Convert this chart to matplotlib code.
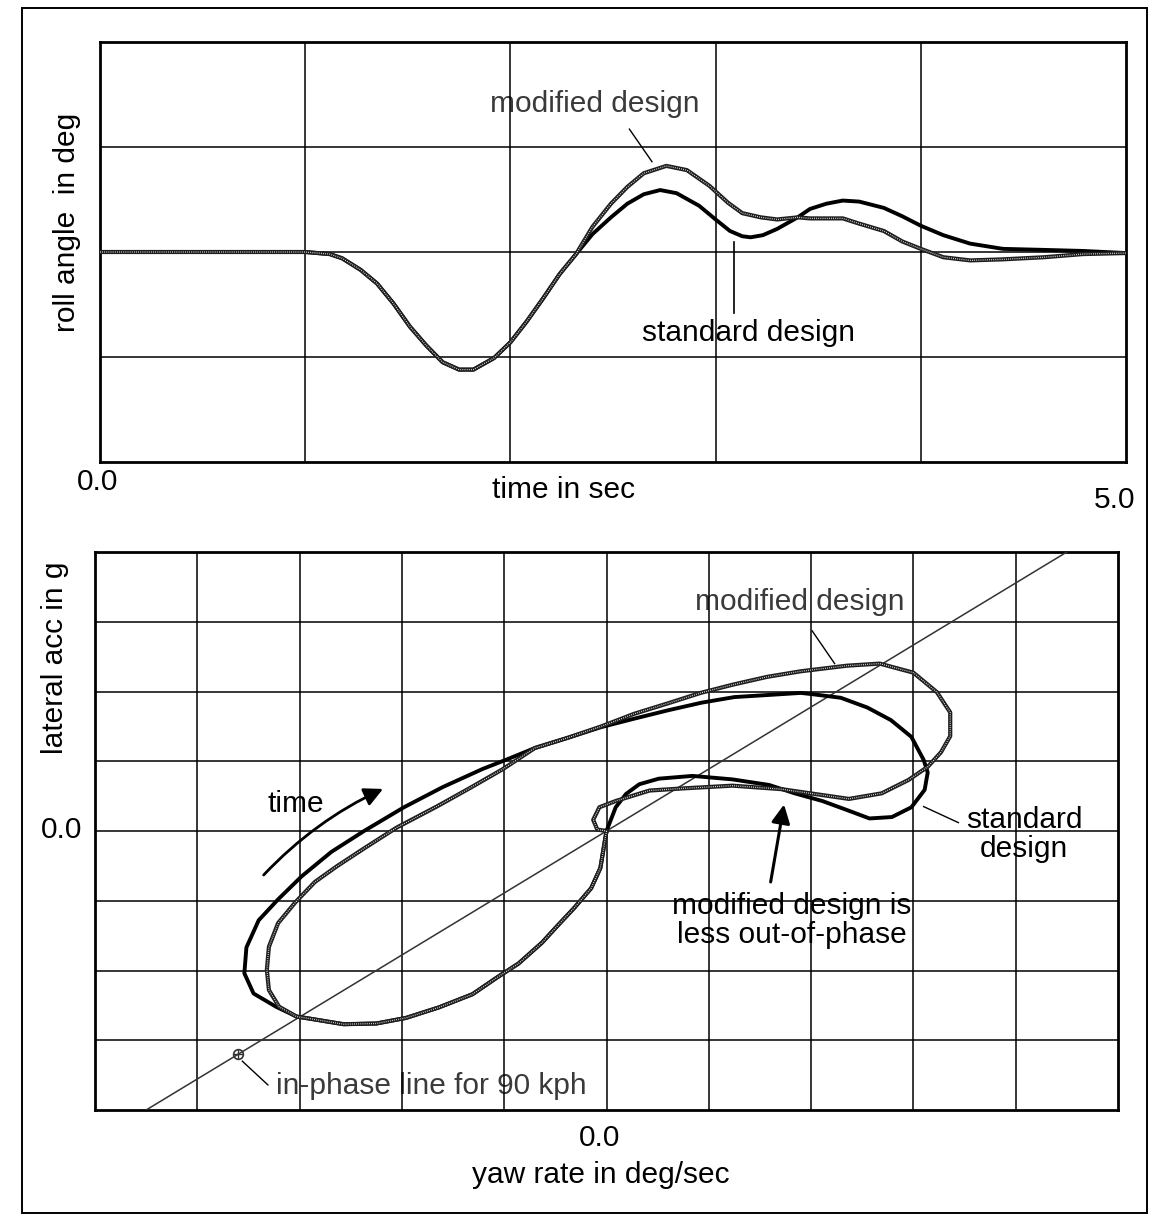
import matplotlib
matplotlib.use("Agg")
import matplotlib.pyplot as plt
from matplotlib.patches import FancyArrowPatch, Rectangle

plt.rcParams["font.family"] = ["Liberation Sans", "DejaVu Sans"]

# ---- top panel: roll angle vs time (grid units)
t_std = [0.0, 1.0, 1.12, 1.18, 1.27, 1.35, 1.43, 1.51, 1.59, 1.67, 1.75, 1.82, 1.92,
         2.00, 2.08, 2.16, 2.24, 2.32, 2.40, 2.49, 2.57, 2.65, 2.73, 2.81, 2.92, 3.00,
         3.07, 3.13, 3.17, 3.23, 3.30, 3.40, 3.46, 3.54, 3.62, 3.70, 3.82, 3.91, 4.00,
         4.11, 4.24, 4.40, 4.60, 4.79, 5.0]
roll_std = [0.0, 0.0, -0.02, -0.06, -0.17, -0.30, -0.49, -0.71, -0.89, -1.05, -1.12, -1.12,
            -1.01, -0.86, -0.66, -0.44, -0.21, -0.02, 0.17, 0.33, 0.46, 0.55, 0.59, 0.56,
            0.44, 0.31, 0.20, 0.15, 0.14, 0.16, 0.22, 0.33, 0.41, 0.46, 0.49, 0.48, 0.42,
            0.34, 0.25, 0.16, 0.08, 0.03, 0.02, 0.01, -0.01]
t_mod = [0.0, 1.0, 1.12, 1.18, 1.27, 1.35, 1.43, 1.51, 1.59, 1.67, 1.75, 1.82, 1.92,
         2.00, 2.08, 2.16, 2.24, 2.32, 2.40, 2.49, 2.57, 2.65, 2.76, 2.86, 2.97, 3.06,
         3.13, 3.22, 3.30, 3.40, 3.46, 3.62, 3.70, 3.82, 3.91, 4.00, 4.11, 4.24, 4.40,
         4.60, 4.79, 5.0]
roll_mod = [0.0, 0.0, -0.02, -0.06, -0.17, -0.30, -0.49, -0.71, -0.89, -1.05, -1.12, -1.12,
            -1.01, -0.86, -0.66, -0.44, -0.21, -0.02, 0.24, 0.46, 0.62, 0.75, 0.82, 0.78,
            0.63, 0.47, 0.37, 0.33, 0.31, 0.33, 0.32, 0.32, 0.27, 0.20, 0.10, 0.03, -0.05,
            -0.08, -0.07, -0.05, -0.02, -0.01]

# ---- bottom panel: lateral acc vs yaw rate (grid units)
yaw_std = [0.0, -0.06, -0.15, -0.32, -0.48, -0.63, -0.86, -1.06, -1.31, -1.64, -1.96,
           -2.25, -2.57, -2.86, -3.03, -3.23, -3.45, -3.54, -3.52, -3.40, -3.21, -2.98,
           -2.69, -2.37, -1.98, -1.60, -1.21, -0.95, -0.70, -0.37, -0.05, 0.27, 0.60,
           0.93, 1.25, 1.58, 1.90, 2.02, 2.29, 2.55, 2.78, 2.98, 3.10, 3.14, 3.11, 2.98,
           2.79, 2.57, 2.37, 2.11, 1.84, 1.59, 1.23, 0.84, 0.51, 0.32, 0.19, 0.09, 0.0]
acc_std = [0.0, -0.53, -0.82, -1.11, -1.36, -1.60, -1.90, -2.09, -2.34, -2.53, -2.68,
           -2.76, -2.77, -2.70, -2.66, -2.52, -2.33, -2.04, -1.67, -1.28, -0.98, -0.65,
           -0.30, 0.00, 0.34, 0.63, 0.89, 1.04, 1.19, 1.34, 1.49, 1.61, 1.73, 1.84, 1.92,
           1.95, 1.98, 1.96, 1.91, 1.77, 1.59, 1.35, 1.02, 0.84, 0.59, 0.34, 0.20, 0.18,
           0.29, 0.43, 0.54, 0.66, 0.74, 0.79, 0.75, 0.67, 0.53, 0.34, 0.0]
yaw_mod = [0.0, -0.06, -0.15, -0.32, -0.48, -0.63, -0.86, -1.06, -1.31, -1.64, -1.96,
           -2.25, -2.57, -2.86, -3.03, -3.20, -3.30, -3.32, -3.30, -3.21, -3.04, -2.85,
           -2.63, -2.37, -2.05, -1.66, -1.33, -1.01, -0.70, -0.37, -0.05, 0.27, 0.60,
           0.92, 1.24, 1.57, 1.90, 2.35, 2.67, 3.00, 3.23, 3.36, 3.36, 3.27, 3.14, 2.95,
           2.69, 2.37, 2.04, 1.71, 1.23, 0.74, 0.42, 0.09, -0.07, -0.13, -0.09, 0.0]
acc_mod = [0.0, -0.53, -0.82, -1.11, -1.36, -1.60, -1.90, -2.09, -2.34, -2.53, -2.68,
           -2.76, -2.77, -2.70, -2.66, -2.52, -2.28, -1.99, -1.66, -1.32, -1.02, -0.73,
           -0.50, -0.25, 0.05, 0.35, 0.62, 0.89, 1.19, 1.34, 1.50, 1.68, 1.83, 1.98, 2.10,
           2.21, 2.29, 2.37, 2.40, 2.27, 1.99, 1.70, 1.36, 1.13, 0.92, 0.73, 0.54, 0.46,
           0.53, 0.60, 0.65, 0.61, 0.58, 0.43, 0.34, 0.16, 0.02, 0.0]
inphase_yaw = [-4.5, 4.5]
inphase_acc = [-4.0, 4.0]
inphase_mark = (-3.60, -3.20)

W, H = 1154, 1226
FS = 21.5
GREY_TXT = "#3a3a3a"


def fx(px):
    return px / W


def fy(py):
    return 1 - py / H


def beaded(ax, x, y):
    # the "modified" curve is printed as a chain of small rings
    ax.plot(x, y, color="#1e1e1e", lw=3.0, solid_joinstyle="round", zorder=4)
    ax.plot(x, y, color="white", lw=0.9, linestyle=(0, (0.6, 1.1)), zorder=5)


def style_grid(ax):
    ax.grid(True, color="black", lw=1.1, zorder=0.5)
    ax.set_axisbelow(True)
    ax.tick_params(length=0, labelbottom=False, labelleft=False)
    for s in ax.spines.values():
        s.set_linewidth(2.0)


fig = plt.figure(figsize=(W / 100, H / 100), dpi=100)
fig.add_artist(Rectangle((fx(22), fy(1213)), fx(1147 - 22), (1213 - 8) / H,
                         transform=fig.transFigure, fill=False, lw=1.4, color="black"))

# top panel
ax1 = fig.add_axes([fx(100), fy(462), fx(1026), (462 - 42) / H])
ax1.set_xlim(0, 5)
ax1.set_ylim(-2, 2)
ax1.set_xticks([1, 2, 3, 4])
ax1.set_yticks([-1, 0, 1])
style_grid(ax1)
ax1.plot(t_std, roll_std, color="black", lw=2.8, solid_joinstyle="round", zorder=4)
beaded(ax1, t_mod, roll_mod)
ax1.text(2.41, 1.41, "modified design", fontsize=FS, color=GREY_TXT, ha="center",
         va="center", zorder=0.3)
ax1.plot([2.58, 2.69], [1.17, 0.86], color="black", lw=1.0)
ax1.text(3.16, -0.77, "standard design", fontsize=FS, ha="center", va="center", zorder=0.3)
ax1.plot([3.09, 3.09], [-0.58, 0.10], color="black", lw=1.2)

fig.text(fx(67), fy(222), "roll angle  in deg", rotation=90, fontsize=FS, ha="center", va="center")
fig.text(fx(98), fy(482), "0.0", fontsize=FS, ha="center", va="center")
fig.text(fx(563), fy(490), "time in sec", fontsize=FS, ha="center", va="center")
fig.text(fx(1115), fy(500), "5.0", fontsize=FS, ha="center", va="center")

# bottom panel
ax2 = fig.add_axes([fx(95), fy(1110), fx(1118 - 95), (1110 - 552) / H])
ax2.set_xlim(-5, 5)
ax2.set_ylim(-4, 4)
ax2.set_xticks(range(-4, 5))
ax2.set_yticks(range(-3, 4))
style_grid(ax2)
ax2.plot(inphase_yaw, inphase_acc, color="#333333", lw=1.1, zorder=3)
ax2.plot(*inphase_mark, marker="o", ms=7, mfc="none", mec="#333333", mew=1.2, zorder=3)
ax2.plot(*inphase_mark, marker="+", ms=7, color="#333333", mew=1.0, zorder=3)
ax2.plot(yaw_std, acc_std, color="black", lw=2.8, solid_joinstyle="round", zorder=4)
beaded(ax2, yaw_mod, acc_mod)

ax2.text(1.89, 3.29, "modified design", fontsize=FS, color=GREY_TXT, ha="center",
         va="center", zorder=0.3)
ax2.plot([2.01, 2.23], [2.87, 2.40], color="black", lw=1.0)
ax2.text(4.08, -0.05, "standard\ndesign", fontsize=FS, ha="center", va="center",
         linespacing=1.05, zorder=0.3)
ax2.plot([3.10, 3.44], [0.35, 0.12], color="black", lw=1.0)
ax2.text(1.81, -1.28, "modified design is\nless out-of-phase", fontsize=FS, ha="center",
         va="center", linespacing=1.05, zorder=0.3)
ax2.add_patch(FancyArrowPatch((1.60, -0.77), (1.74, 0.42), arrowstyle="-|>",
                              mutation_scale=28, lw=2.2, color="black", zorder=6))
ax2.text(-3.04, 0.39, "time", fontsize=FS, ha="center", va="center", zorder=0.3)
ax2.add_patch(FancyArrowPatch((-3.37, -0.66), (-2.16, 0.62), arrowstyle="-|>",
                              connectionstyle="arc3,rad=-0.1",
                              mutation_scale=28, lw=2.0, color="black", zorder=6))
ax2.text(-3.23, -3.65, "in-phase line for 90 kph", fontsize=FS, color=GREY_TXT,
         ha="left", va="center", zorder=0.3)
ax2.plot([-3.56, -3.31], [-3.30, -3.64], color="black", lw=1.0)

fig.text(fx(62), fy(830), "0.0", fontsize=FS, ha="center", va="center")
fig.text(fx(55), fy(658), "lateral acc in g", rotation=90, fontsize=FS, ha="center", va="center")
fig.text(fx(600), fy(1138), "0.0", fontsize=FS, ha="center", va="center")
fig.text(fx(601), fy(1175), "yaw rate in deg/sec", fontsize=FS, ha="center", va="center")

fig.savefig("out.png", dpi=100)
